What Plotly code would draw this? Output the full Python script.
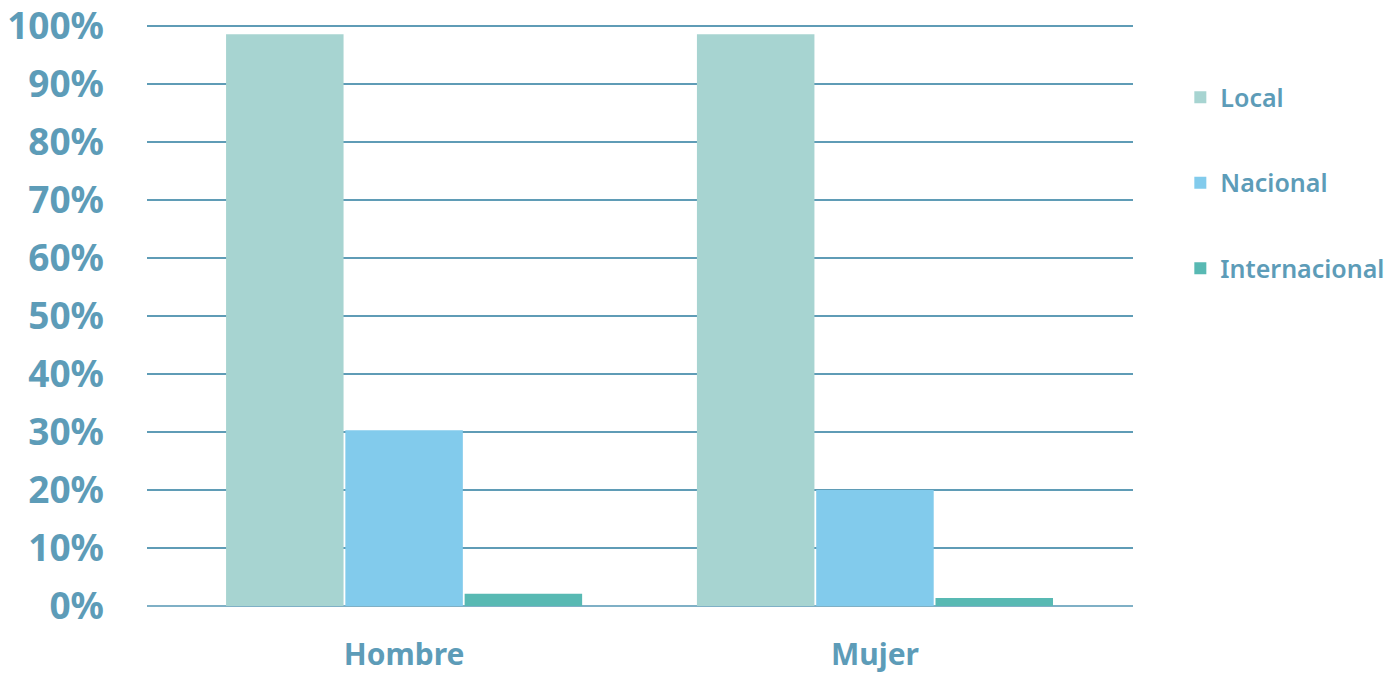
import plotly.graph_objects as go

categorias = ['Hombre', 'Mujer']
local = [98.6, 98.6]
nacional = [30.3, 20.0]
internacional = [2.1, 1.4]

ticks_y = [0, 10, 20, 30, 40, 50, 60, 70, 80, 90, 100]
etiquetas_y = ['0%', '10%', '20%', '30%', '40%', '50%', '60%', '70%', '80%', '90%', '100%']

colores = ['#a7d4d1', '#82cbec', '#58b9b3']
texto = '#5d9cb8'

fig = go.Figure()
for i, (nombre, valores) in enumerate([('Local', local), ('Nacional', nacional), ('Internacional', internacional)]):
    fig.add_trace(go.Bar(
        x=categorias,
        y=valores,
        name=nombre,
        legendgroup=nombre,
        marker=dict(color=colores[i], line=dict(width=0)),
        hoverinfo='skip',
    ))

# la pagina tiene 8px de margen en el body, por eso 1388x665
fig.update_layout(
    width=1388,
    height=665,
    margin=dict(l=139, r=263, t=17, b=67, autoexpand=False),
    paper_bgcolor='#ffffff',
    plot_bgcolor='#ffffff',
    barmode='group',
    bargap=0.24,
    bargroupgap=0.015,
    font=dict(family='Noto Sans', color=texto),
    legend=dict(
        x=1.048, xanchor='left',
        y=0.915, yanchor='top',
        font=dict(size=25, color=texto, family='Noto Sans', weight=600),
        tracegroupgap=50,
        itemwidth=30,
    ),
    xaxis=dict(
        type='category',
        range=[-0.546, 1.548],
        showgrid=False,
        showline=False,
        ticks='',
        automargin=False,
        ticklabeloverflow='allow',
        ticklabelstandoff=28,
        tickfont=dict(size=30, family='Noto Sans', weight='bold', color=texto),
    ),
    yaxis=dict(
        range=[0, 100.2],
        tickmode='array',
        tickvals=ticks_y,
        ticktext=etiquetas_y,
        showgrid=True,
        gridcolor='#5f9cb6',
        gridwidth=1.5,
        zeroline=True,
        zerolinecolor='#7fb0c6',
        zerolinewidth=2,
        showline=False,
        ticks='',
        automargin=False,
        ticklabeloverflow='allow',
        ticklabelstandoff=42,
        tickfont=dict(size=37, family='Noto Sans', weight='bold', color=texto),
    ),
)

fig.write_html('out.html')
